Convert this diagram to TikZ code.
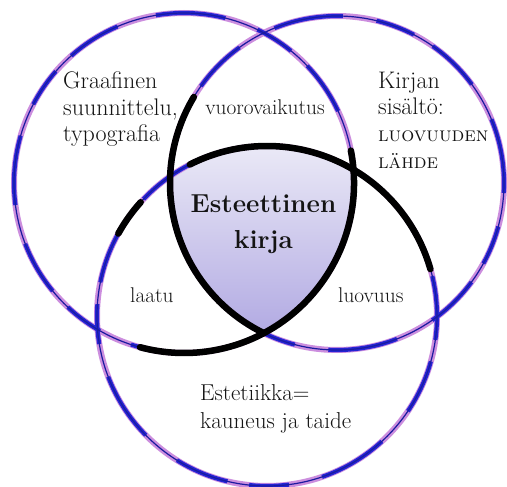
\documentclass[tikz,border=0pt]{standalone}
\usepackage{fontspec}
\definecolor{lilac}{HTML}{CC8EDE}
\definecolor{brushblue}{HTML}{2424D4}
\definecolor{inktext}{HTML}{141414}
\definecolor{filltop}{HTML}{ECEBF7}
\definecolor{fillbot}{HTML}{B0A8E2}
\tikzset{
  brush/.style={line width=6pt, draw=lilac},
  brushtop/.style={line width=4.2pt, draw=brushblue, dash pattern=on 70pt off 34pt on 40pt off 22pt on 55pt off 40pt},
  brushcore/.style={line width=1.2pt, draw=brushblue!75!black},
  inkarc/.style={line width=6.5pt, draw=black, line cap=round},
  lbl/.style={inner sep=0pt, anchor=base west, text=inktext},
  lblc/.style={inner sep=0pt, anchor=base, text=inktext},
  big/.style={font=\fontsize{24}{28}\selectfont},
  mid/.style={font=\fontsize{21.3}{25}\selectfont},
  low/.style={font=\fontsize{23}{27}\selectfont},
  caps/.style={font=\scshape\fontsize{20.5}{22}\selectfont},
  title/.style={font=\bfseries\fontsize{26}{32}\selectfont},
}
\begin{document}
\begin{tikzpicture}[x=1pt,y=-1pt]
\useasboundingbox (0,0) rectangle (507,487);
\coordinate (A) at (184,183);
\coordinate (B) at (337,183);
\coordinate (C) at (267,316);
% central fill
\begin{scope}
  \clip (A) circle[radius=170];
  \clip (B) circle[radius=167];
  \clip (C) circle[radius=170];
  \fill[top color=filltop, bottom color=fillbot] (150,140) rectangle (370,340);
\end{scope}
% brush circles
\draw[brush] (A) circle[radius=170];
\draw[brush] (B) circle[radius=167];
\draw[brush] (C) circle[radius=170];
\draw[brushtop, dash phase=10pt] (A) circle[radius=170];
\draw[brushtop, dash phase=60pt] (B) circle[radius=167];
\draw[brushtop, dash phase=120pt] (C) circle[radius=170];
\draw[brushcore] (A) circle[radius=170];
\draw[brushcore] (B) circle[radius=167];
\draw[brushcore] (C) circle[radius=170];
% black ink arcs
\draw[inkarc] (A) ++(-11:170) arc[start angle=-11, end angle=105, radius=170];
\draw[inkarc] (B) ++(116:167) arc[start angle=116, end angle=211, radius=167];
\draw[inkarc] (C) ++(209:170) arc[start angle=209, end angle=222, radius=170];
\draw[inkarc] (C) ++(243:170) arc[start angle=243, end angle=344, radius=170];
% labels
\node[lbl, big] (g1) at (63,89) {Graafinen};
\node[lbl, big] (g2) at (63,116) {suunnittelu,};
\node[lbl, big] (g3) at (63,142) {typografia};
\node[lblc, mid] (vv) at (265,115) {vuorovaikutus};
\node[lbl, big] (k1) at (378,89) {Kirjan};
\node[lbl, big] (k2) at (378,115) {sisältö:};
\node[lbl, caps] (k3) at (378,142) {luovuuden};
\node[lbl, caps] (k4) at (378,168) {lähde};
\node[lblc, title] (e1) at (263.5,212) {Esteettinen};
\node[lblc, title] (e2) at (263.5,248) {kirja};
\node[lbl, mid] (la) at (130,302) {laatu};
\node[lbl, mid] (lu) at (338,302) {luovuus};
\node[lbl, low] (s1) at (200,400) {Estetiikka=};
\node[lbl, low] (s2) at (200,428) {kauneus ja taide};
\end{tikzpicture}
\end{document}
